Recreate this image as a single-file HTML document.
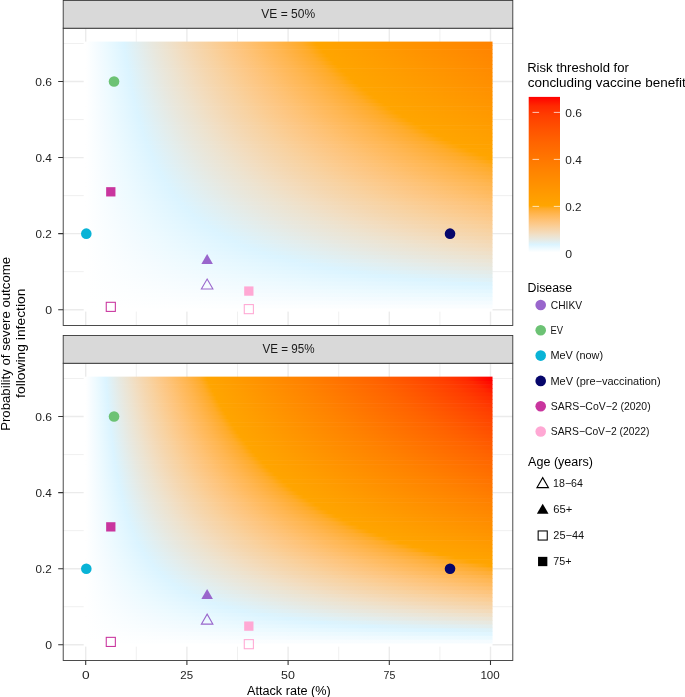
<!DOCTYPE html>
<html><head><meta charset="utf-8"><style>
html,body{margin:0;padding:0;background:#fff;width:685px;height:697px;overflow:hidden}
svg{display:block;font-family:"Liberation Sans",sans-serif;will-change:transform}
</style></head><body>
<svg width="685" height="697" viewBox="0 0 685 697">
<defs>
<linearGradient id="hg" gradientUnits="userSpaceOnUse" x1="0" y1="0" x2="665.0" y2="0"><stop offset="0.0000" stop-color="#ffffff"/><stop offset="0.0083" stop-color="#f9fdff"/><stop offset="0.0167" stop-color="#f3fbff"/><stop offset="0.0250" stop-color="#edfaff"/><stop offset="0.0333" stop-color="#e7f8ff"/><stop offset="0.0417" stop-color="#e1f6ff"/><stop offset="0.0500" stop-color="#dbf4ff"/><stop offset="0.0679" stop-color="#e2eeef"/><stop offset="0.0857" stop-color="#e8e8df"/><stop offset="0.1036" stop-color="#ede3d0"/><stop offset="0.1214" stop-color="#f2ddc0"/><stop offset="0.1393" stop-color="#f5d7b0"/><stop offset="0.1571" stop-color="#f8d2a1"/><stop offset="0.1750" stop-color="#fbcc91"/><stop offset="0.1929" stop-color="#fdc682"/><stop offset="0.2107" stop-color="#fec172"/><stop offset="0.2286" stop-color="#ffbb61"/><stop offset="0.2464" stop-color="#ffb651"/><stop offset="0.2643" stop-color="#ffb03e"/><stop offset="0.2821" stop-color="#ffab28"/><stop offset="0.3000" stop-color="#ffa500"/><stop offset="0.3583" stop-color="#ff9d00"/><stop offset="0.4167" stop-color="#ff9400"/><stop offset="0.4750" stop-color="#ff8b00"/><stop offset="0.5333" stop-color="#ff8200"/><stop offset="0.5917" stop-color="#ff7800"/><stop offset="0.6500" stop-color="#ff6e00"/><stop offset="0.7083" stop-color="#ff6400"/><stop offset="0.7667" stop-color="#ff5800"/><stop offset="0.8250" stop-color="#ff4b00"/><stop offset="0.8833" stop-color="#ff3d00"/><stop offset="0.9417" stop-color="#ff2900"/><stop offset="1.0000" stop-color="#ff0000"/></linearGradient>
<linearGradient id="lg" x1="0" y1="1" x2="0" y2="0"><stop offset="0.0000" stop-color="#ffffff"/><stop offset="0.0083" stop-color="#f9fdff"/><stop offset="0.0167" stop-color="#f3fbff"/><stop offset="0.0250" stop-color="#edfaff"/><stop offset="0.0333" stop-color="#e7f8ff"/><stop offset="0.0417" stop-color="#e1f6ff"/><stop offset="0.0500" stop-color="#dbf4ff"/><stop offset="0.0679" stop-color="#e2eeef"/><stop offset="0.0857" stop-color="#e8e8df"/><stop offset="0.1036" stop-color="#ede3d0"/><stop offset="0.1214" stop-color="#f2ddc0"/><stop offset="0.1393" stop-color="#f5d7b0"/><stop offset="0.1571" stop-color="#f8d2a1"/><stop offset="0.1750" stop-color="#fbcc91"/><stop offset="0.1929" stop-color="#fdc682"/><stop offset="0.2107" stop-color="#fec172"/><stop offset="0.2286" stop-color="#ffbb61"/><stop offset="0.2464" stop-color="#ffb651"/><stop offset="0.2643" stop-color="#ffb03e"/><stop offset="0.2821" stop-color="#ffab28"/><stop offset="0.3000" stop-color="#ffa500"/><stop offset="0.3583" stop-color="#ff9d00"/><stop offset="0.4167" stop-color="#ff9400"/><stop offset="0.4750" stop-color="#ff8b00"/><stop offset="0.5333" stop-color="#ff8200"/><stop offset="0.5917" stop-color="#ff7800"/><stop offset="0.6500" stop-color="#ff6e00"/><stop offset="0.7083" stop-color="#ff6400"/><stop offset="0.7667" stop-color="#ff5800"/><stop offset="0.8250" stop-color="#ff4b00"/><stop offset="0.8833" stop-color="#ff3d00"/><stop offset="0.9417" stop-color="#ff2900"/><stop offset="1.0000" stop-color="#ff0000"/></linearGradient>
</defs>
<rect x="63.20" y="28.20" width="449.60" height="297.25" fill="#fff"/>
<path d="M136.30 28.20V325.45M237.50 28.20V325.45M338.70 28.20V325.45M439.90 28.20V325.45M63.20 271.67H512.80M63.20 195.61H512.80M63.20 119.55H512.80M63.20 43.49H512.80" stroke="#ebebeb" stroke-width="0.75" fill="none"/>
<path d="M85.70 28.20V325.45M186.90 28.20V325.45M288.10 28.20V325.45M389.30 28.20V325.45M490.50 28.20V325.45M63.20 309.70H512.80M63.20 233.64H512.80M63.20 157.58H512.80M63.20 81.52H512.80" stroke="#ebebeb" stroke-width="1.4" fill="none"/>
<rect x="83.68" y="307.80" width="408.85" height="3.803" fill="#fff"/><rect transform="matrix(80.96000 0 0 1 85.70 0)" x="-0.0250" y="304.00" width="5.0500" height="4.403" fill="url(#hg)"/><rect transform="matrix(40.48000 0 0 1 85.70 0)" x="-0.0500" y="300.19" width="10.1000" height="4.403" fill="url(#hg)"/><rect transform="matrix(26.98667 0 0 1 85.70 0)" x="-0.0750" y="296.39" width="15.1500" height="4.403" fill="url(#hg)"/><rect transform="matrix(20.24000 0 0 1 85.70 0)" x="-0.1000" y="292.59" width="20.2000" height="4.403" fill="url(#hg)"/><rect transform="matrix(16.19200 0 0 1 85.70 0)" x="-0.1250" y="288.78" width="25.2500" height="4.403" fill="url(#hg)"/><rect transform="matrix(13.49333 0 0 1 85.70 0)" x="-0.1500" y="284.98" width="30.3000" height="4.403" fill="url(#hg)"/><rect transform="matrix(11.56571 0 0 1 85.70 0)" x="-0.1750" y="281.18" width="35.3500" height="4.403" fill="url(#hg)"/><rect transform="matrix(10.12000 0 0 1 85.70 0)" x="-0.2000" y="277.37" width="40.4000" height="4.403" fill="url(#hg)"/><rect transform="matrix(8.99556 0 0 1 85.70 0)" x="-0.2250" y="273.57" width="45.4500" height="4.403" fill="url(#hg)"/><rect transform="matrix(8.09600 0 0 1 85.70 0)" x="-0.2500" y="269.77" width="50.5000" height="4.403" fill="url(#hg)"/><rect transform="matrix(7.36000 0 0 1 85.70 0)" x="-0.2750" y="265.97" width="55.5500" height="4.403" fill="url(#hg)"/><rect transform="matrix(6.74667 0 0 1 85.70 0)" x="-0.3000" y="262.16" width="60.6000" height="4.403" fill="url(#hg)"/><rect transform="matrix(6.22769 0 0 1 85.70 0)" x="-0.3250" y="258.36" width="65.6500" height="4.403" fill="url(#hg)"/><rect transform="matrix(5.78286 0 0 1 85.70 0)" x="-0.3500" y="254.56" width="70.7000" height="4.403" fill="url(#hg)"/><rect transform="matrix(5.39733 0 0 1 85.70 0)" x="-0.3750" y="250.75" width="75.7500" height="4.403" fill="url(#hg)"/><rect transform="matrix(5.06000 0 0 1 85.70 0)" x="-0.4000" y="246.95" width="80.8000" height="4.403" fill="url(#hg)"/><rect transform="matrix(4.76235 0 0 1 85.70 0)" x="-0.4250" y="243.15" width="85.8500" height="4.403" fill="url(#hg)"/><rect transform="matrix(4.49778 0 0 1 85.70 0)" x="-0.4500" y="239.34" width="90.9000" height="4.403" fill="url(#hg)"/><rect transform="matrix(4.26105 0 0 1 85.70 0)" x="-0.4750" y="235.54" width="95.9500" height="4.403" fill="url(#hg)"/><rect transform="matrix(4.04800 0 0 1 85.70 0)" x="-0.5000" y="231.74" width="101.0000" height="4.403" fill="url(#hg)"/><rect transform="matrix(3.85524 0 0 1 85.70 0)" x="-0.5250" y="227.94" width="106.0500" height="4.403" fill="url(#hg)"/><rect transform="matrix(3.68000 0 0 1 85.70 0)" x="-0.5500" y="224.13" width="111.1000" height="4.403" fill="url(#hg)"/><rect transform="matrix(3.52000 0 0 1 85.70 0)" x="-0.5750" y="220.33" width="116.1500" height="4.403" fill="url(#hg)"/><rect transform="matrix(3.37333 0 0 1 85.70 0)" x="-0.6000" y="216.53" width="121.2000" height="4.403" fill="url(#hg)"/><rect transform="matrix(3.23840 0 0 1 85.70 0)" x="-0.6250" y="212.72" width="126.2500" height="4.403" fill="url(#hg)"/><rect transform="matrix(3.11385 0 0 1 85.70 0)" x="-0.6500" y="208.92" width="131.3000" height="4.403" fill="url(#hg)"/><rect transform="matrix(2.99852 0 0 1 85.70 0)" x="-0.6750" y="205.12" width="136.3500" height="4.403" fill="url(#hg)"/><rect transform="matrix(2.89143 0 0 1 85.70 0)" x="-0.7000" y="201.31" width="141.4000" height="4.403" fill="url(#hg)"/><rect transform="matrix(2.79172 0 0 1 85.70 0)" x="-0.7250" y="197.51" width="146.4500" height="4.403" fill="url(#hg)"/><rect transform="matrix(2.69867 0 0 1 85.70 0)" x="-0.7500" y="193.71" width="151.5000" height="4.403" fill="url(#hg)"/><rect transform="matrix(2.61161 0 0 1 85.70 0)" x="-0.7750" y="189.91" width="156.5500" height="4.403" fill="url(#hg)"/><rect transform="matrix(2.53000 0 0 1 85.70 0)" x="-0.8000" y="186.10" width="161.6000" height="4.403" fill="url(#hg)"/><rect transform="matrix(2.45333 0 0 1 85.70 0)" x="-0.8250" y="182.30" width="166.6500" height="4.403" fill="url(#hg)"/><rect transform="matrix(2.38118 0 0 1 85.70 0)" x="-0.8500" y="178.50" width="171.7000" height="4.403" fill="url(#hg)"/><rect transform="matrix(2.31314 0 0 1 85.70 0)" x="-0.8750" y="174.69" width="176.7500" height="4.403" fill="url(#hg)"/><rect transform="matrix(2.24889 0 0 1 85.70 0)" x="-0.9000" y="170.89" width="181.8000" height="4.403" fill="url(#hg)"/><rect transform="matrix(2.18811 0 0 1 85.70 0)" x="-0.9250" y="167.09" width="186.8500" height="4.403" fill="url(#hg)"/><rect transform="matrix(2.13053 0 0 1 85.70 0)" x="-0.9500" y="163.28" width="191.9000" height="4.403" fill="url(#hg)"/><rect transform="matrix(2.07590 0 0 1 85.70 0)" x="-0.9750" y="159.48" width="196.9500" height="4.403" fill="url(#hg)"/><rect transform="matrix(2.02400 0 0 1 85.70 0)" x="-1.0000" y="155.68" width="202.0000" height="4.403" fill="url(#hg)"/><rect transform="matrix(1.97463 0 0 1 85.70 0)" x="-1.0250" y="151.88" width="207.0500" height="4.403" fill="url(#hg)"/><rect transform="matrix(1.92762 0 0 1 85.70 0)" x="-1.0500" y="148.07" width="212.1000" height="4.403" fill="url(#hg)"/><rect transform="matrix(1.88279 0 0 1 85.70 0)" x="-1.0750" y="144.27" width="217.1500" height="4.403" fill="url(#hg)"/><rect transform="matrix(1.84000 0 0 1 85.70 0)" x="-1.1000" y="140.47" width="222.2000" height="4.403" fill="url(#hg)"/><rect transform="matrix(1.79911 0 0 1 85.70 0)" x="-1.1250" y="136.66" width="227.2500" height="4.403" fill="url(#hg)"/><rect transform="matrix(1.76000 0 0 1 85.70 0)" x="-1.1500" y="132.86" width="232.3000" height="4.403" fill="url(#hg)"/><rect transform="matrix(1.72255 0 0 1 85.70 0)" x="-1.1750" y="129.06" width="237.3500" height="4.403" fill="url(#hg)"/><rect transform="matrix(1.68667 0 0 1 85.70 0)" x="-1.2000" y="125.25" width="242.4000" height="4.403" fill="url(#hg)"/><rect transform="matrix(1.65224 0 0 1 85.70 0)" x="-1.2250" y="121.45" width="247.4500" height="4.403" fill="url(#hg)"/><rect transform="matrix(1.61920 0 0 1 85.70 0)" x="-1.2500" y="117.65" width="252.5000" height="4.403" fill="url(#hg)"/><rect transform="matrix(1.58745 0 0 1 85.70 0)" x="-1.2750" y="113.85" width="257.5500" height="4.403" fill="url(#hg)"/><rect transform="matrix(1.55692 0 0 1 85.70 0)" x="-1.3000" y="110.04" width="262.6000" height="4.403" fill="url(#hg)"/><rect transform="matrix(1.52755 0 0 1 85.70 0)" x="-1.3250" y="106.24" width="267.6500" height="4.403" fill="url(#hg)"/><rect transform="matrix(1.49926 0 0 1 85.70 0)" x="-1.3500" y="102.44" width="272.7000" height="4.403" fill="url(#hg)"/><rect transform="matrix(1.47200 0 0 1 85.70 0)" x="-1.3750" y="98.63" width="277.7500" height="4.403" fill="url(#hg)"/><rect transform="matrix(1.44571 0 0 1 85.70 0)" x="-1.4000" y="94.83" width="282.8000" height="4.403" fill="url(#hg)"/><rect transform="matrix(1.42035 0 0 1 85.70 0)" x="-1.4250" y="91.03" width="287.8500" height="4.403" fill="url(#hg)"/><rect transform="matrix(1.39586 0 0 1 85.70 0)" x="-1.4500" y="87.22" width="292.9000" height="4.403" fill="url(#hg)"/><rect transform="matrix(1.37220 0 0 1 85.70 0)" x="-1.4750" y="83.42" width="297.9500" height="4.403" fill="url(#hg)"/><rect transform="matrix(1.34933 0 0 1 85.70 0)" x="-1.5000" y="79.62" width="303.0000" height="4.403" fill="url(#hg)"/><rect transform="matrix(1.32721 0 0 1 85.70 0)" x="-1.5250" y="75.82" width="308.0500" height="4.403" fill="url(#hg)"/><rect transform="matrix(1.30581 0 0 1 85.70 0)" x="-1.5500" y="72.01" width="313.1000" height="4.403" fill="url(#hg)"/><rect transform="matrix(1.28508 0 0 1 85.70 0)" x="-1.5750" y="68.21" width="318.1500" height="4.403" fill="url(#hg)"/><rect transform="matrix(1.26500 0 0 1 85.70 0)" x="-1.6000" y="64.41" width="323.2000" height="4.403" fill="url(#hg)"/><rect transform="matrix(1.24554 0 0 1 85.70 0)" x="-1.6250" y="60.60" width="328.2500" height="4.403" fill="url(#hg)"/><rect transform="matrix(1.22667 0 0 1 85.70 0)" x="-1.6500" y="56.80" width="333.3000" height="4.403" fill="url(#hg)"/><rect transform="matrix(1.20836 0 0 1 85.70 0)" x="-1.6750" y="53.00" width="338.3500" height="4.403" fill="url(#hg)"/><rect transform="matrix(1.19059 0 0 1 85.70 0)" x="-1.7000" y="49.19" width="343.4000" height="4.403" fill="url(#hg)"/><rect transform="matrix(1.17333 0 0 1 85.70 0)" x="-1.7250" y="45.39" width="348.4500" height="4.403" fill="url(#hg)"/><rect transform="matrix(1.15657 0 0 1 85.70 0)" x="-1.7500" y="41.59" width="353.5000" height="4.403" fill="url(#hg)"/>
<rect x="63.20" y="28.20" width="449.60" height="297.25" fill="none" stroke="#333" stroke-width="0.88"/>
<rect x="63.20" y="0.40" width="449.60" height="27.80" fill="#d9d9d9" stroke="#333" stroke-width="0.88"/>
<text x="261.34" y="18.00" font-size="12.30" fill="#1a1a1a" textLength="53.78" lengthAdjust="spacingAndGlyphs">VE = 50%</text>
<text x="45.21" y="314.20" font-size="11.00" fill="#1e1e1e" textLength="6.84" lengthAdjust="spacingAndGlyphs">0</text>
<text x="35.63" y="238.14" font-size="11.00" fill="#1e1e1e" textLength="16.25" lengthAdjust="spacingAndGlyphs">0.2</text>
<text x="35.43" y="162.08" font-size="11.00" fill="#1e1e1e" textLength="16.43" lengthAdjust="spacingAndGlyphs">0.4</text>
<text x="35.22" y="86.02" font-size="11.00" fill="#1e1e1e" textLength="16.77" lengthAdjust="spacingAndGlyphs">0.6</text>
<path d="M58.20 309.70H63.20M58.20 233.64H63.20M58.20 157.58H63.20M58.20 81.52H63.20" stroke="#333" stroke-width="1.07" fill="none"/>
<rect x="63.20" y="363.25" width="449.60" height="297.25" fill="#fff"/>
<path d="M136.30 363.25V660.50M237.50 363.25V660.50M338.70 363.25V660.50M439.90 363.25V660.50M63.20 606.72H512.80M63.20 530.66H512.80M63.20 454.60H512.80M63.20 378.54H512.80" stroke="#ebebeb" stroke-width="0.75" fill="none"/>
<path d="M85.70 363.25V660.50M186.90 363.25V660.50M288.10 363.25V660.50M389.30 363.25V660.50M490.50 363.25V660.50M63.20 644.75H512.80M63.20 568.69H512.80M63.20 492.63H512.80M63.20 416.57H512.80" stroke="#ebebeb" stroke-width="1.4" fill="none"/>
<rect x="83.68" y="642.85" width="408.85" height="3.803" fill="#fff"/><rect transform="matrix(42.61053 0 0 1 85.70 0)" x="-0.0475" y="639.05" width="9.5950" height="4.403" fill="url(#hg)"/><rect transform="matrix(21.30526 0 0 1 85.70 0)" x="-0.0950" y="635.24" width="19.1900" height="4.403" fill="url(#hg)"/><rect transform="matrix(14.20351 0 0 1 85.70 0)" x="-0.1425" y="631.44" width="28.7850" height="4.403" fill="url(#hg)"/><rect transform="matrix(10.65263 0 0 1 85.70 0)" x="-0.1900" y="627.64" width="38.3800" height="4.403" fill="url(#hg)"/><rect transform="matrix(8.52211 0 0 1 85.70 0)" x="-0.2375" y="623.83" width="47.9750" height="4.403" fill="url(#hg)"/><rect transform="matrix(7.10175 0 0 1 85.70 0)" x="-0.2850" y="620.03" width="57.5700" height="4.403" fill="url(#hg)"/><rect transform="matrix(6.08722 0 0 1 85.70 0)" x="-0.3325" y="616.23" width="67.1650" height="4.403" fill="url(#hg)"/><rect transform="matrix(5.32632 0 0 1 85.70 0)" x="-0.3800" y="612.42" width="76.7600" height="4.403" fill="url(#hg)"/><rect transform="matrix(4.73450 0 0 1 85.70 0)" x="-0.4275" y="608.62" width="86.3550" height="4.403" fill="url(#hg)"/><rect transform="matrix(4.26105 0 0 1 85.70 0)" x="-0.4750" y="604.82" width="95.9500" height="4.403" fill="url(#hg)"/><rect transform="matrix(3.87368 0 0 1 85.70 0)" x="-0.5225" y="601.02" width="105.5450" height="4.403" fill="url(#hg)"/><rect transform="matrix(3.55088 0 0 1 85.70 0)" x="-0.5700" y="597.21" width="115.1400" height="4.403" fill="url(#hg)"/><rect transform="matrix(3.27773 0 0 1 85.70 0)" x="-0.6175" y="593.41" width="124.7350" height="4.403" fill="url(#hg)"/><rect transform="matrix(3.04361 0 0 1 85.70 0)" x="-0.6650" y="589.61" width="134.3300" height="4.403" fill="url(#hg)"/><rect transform="matrix(2.84070 0 0 1 85.70 0)" x="-0.7125" y="585.80" width="143.9250" height="4.403" fill="url(#hg)"/><rect transform="matrix(2.66316 0 0 1 85.70 0)" x="-0.7600" y="582.00" width="153.5200" height="4.403" fill="url(#hg)"/><rect transform="matrix(2.50650 0 0 1 85.70 0)" x="-0.8075" y="578.20" width="163.1150" height="4.403" fill="url(#hg)"/><rect transform="matrix(2.36725 0 0 1 85.70 0)" x="-0.8550" y="574.39" width="172.7100" height="4.403" fill="url(#hg)"/><rect transform="matrix(2.24266 0 0 1 85.70 0)" x="-0.9025" y="570.59" width="182.3050" height="4.403" fill="url(#hg)"/><rect transform="matrix(2.13053 0 0 1 85.70 0)" x="-0.9500" y="566.79" width="191.9000" height="4.403" fill="url(#hg)"/><rect transform="matrix(2.02907 0 0 1 85.70 0)" x="-0.9975" y="562.99" width="201.4950" height="4.403" fill="url(#hg)"/><rect transform="matrix(1.93684 0 0 1 85.70 0)" x="-1.0450" y="559.18" width="211.0900" height="4.403" fill="url(#hg)"/><rect transform="matrix(1.85263 0 0 1 85.70 0)" x="-1.0925" y="555.38" width="220.6850" height="4.403" fill="url(#hg)"/><rect transform="matrix(1.77544 0 0 1 85.70 0)" x="-1.1400" y="551.58" width="230.2800" height="4.403" fill="url(#hg)"/><rect transform="matrix(1.70442 0 0 1 85.70 0)" x="-1.1875" y="547.77" width="239.8750" height="4.403" fill="url(#hg)"/><rect transform="matrix(1.63887 0 0 1 85.70 0)" x="-1.2350" y="543.97" width="249.4700" height="4.403" fill="url(#hg)"/><rect transform="matrix(1.57817 0 0 1 85.70 0)" x="-1.2825" y="540.17" width="259.0650" height="4.403" fill="url(#hg)"/><rect transform="matrix(1.52180 0 0 1 85.70 0)" x="-1.3300" y="536.36" width="268.6600" height="4.403" fill="url(#hg)"/><rect transform="matrix(1.46933 0 0 1 85.70 0)" x="-1.3775" y="532.56" width="278.2550" height="4.403" fill="url(#hg)"/><rect transform="matrix(1.42035 0 0 1 85.70 0)" x="-1.4250" y="528.76" width="287.8500" height="4.403" fill="url(#hg)"/><rect transform="matrix(1.37453 0 0 1 85.70 0)" x="-1.4725" y="524.96" width="297.4450" height="4.403" fill="url(#hg)"/><rect transform="matrix(1.33158 0 0 1 85.70 0)" x="-1.5200" y="521.15" width="307.0400" height="4.403" fill="url(#hg)"/><rect transform="matrix(1.29123 0 0 1 85.70 0)" x="-1.5675" y="517.35" width="316.6350" height="4.403" fill="url(#hg)"/><rect transform="matrix(1.25325 0 0 1 85.70 0)" x="-1.6150" y="513.55" width="326.2300" height="4.403" fill="url(#hg)"/><rect transform="matrix(1.21744 0 0 1 85.70 0)" x="-1.6625" y="509.74" width="335.8250" height="4.403" fill="url(#hg)"/><rect transform="matrix(1.18363 0 0 1 85.70 0)" x="-1.7100" y="505.94" width="345.4200" height="4.403" fill="url(#hg)"/><rect transform="matrix(1.15164 0 0 1 85.70 0)" x="-1.7575" y="502.14" width="355.0150" height="4.403" fill="url(#hg)"/><rect transform="matrix(1.12133 0 0 1 85.70 0)" x="-1.8050" y="498.33" width="364.6100" height="4.403" fill="url(#hg)"/><rect transform="matrix(1.09258 0 0 1 85.70 0)" x="-1.8525" y="494.53" width="374.2050" height="4.403" fill="url(#hg)"/><rect transform="matrix(1.06526 0 0 1 85.70 0)" x="-1.9000" y="490.73" width="383.8000" height="4.403" fill="url(#hg)"/><rect transform="matrix(1.03928 0 0 1 85.70 0)" x="-1.9475" y="486.93" width="393.3950" height="4.403" fill="url(#hg)"/><rect transform="matrix(1.01454 0 0 1 85.70 0)" x="-1.9950" y="483.12" width="402.9900" height="4.403" fill="url(#hg)"/><rect transform="matrix(0.99094 0 0 1 85.70 0)" x="-2.0425" y="479.32" width="412.5850" height="4.403" fill="url(#hg)"/><rect transform="matrix(0.96842 0 0 1 85.70 0)" x="-2.0900" y="475.52" width="422.1800" height="4.403" fill="url(#hg)"/><rect transform="matrix(0.94690 0 0 1 85.70 0)" x="-2.1375" y="471.71" width="431.7750" height="4.403" fill="url(#hg)"/><rect transform="matrix(0.92632 0 0 1 85.70 0)" x="-2.1850" y="467.91" width="441.3700" height="4.403" fill="url(#hg)"/><rect transform="matrix(0.90661 0 0 1 85.70 0)" x="-2.2325" y="464.11" width="450.9650" height="4.403" fill="url(#hg)"/><rect transform="matrix(0.88772 0 0 1 85.70 0)" x="-2.2800" y="460.30" width="460.5600" height="4.403" fill="url(#hg)"/><rect transform="matrix(0.86960 0 0 1 85.70 0)" x="-2.3275" y="456.50" width="470.1550" height="4.403" fill="url(#hg)"/><rect transform="matrix(0.85221 0 0 1 85.70 0)" x="-2.3750" y="452.70" width="479.7500" height="4.403" fill="url(#hg)"/><rect transform="matrix(0.83550 0 0 1 85.70 0)" x="-2.4225" y="448.90" width="489.3450" height="4.403" fill="url(#hg)"/><rect transform="matrix(0.81943 0 0 1 85.70 0)" x="-2.4700" y="445.09" width="498.9400" height="4.403" fill="url(#hg)"/><rect transform="matrix(0.80397 0 0 1 85.70 0)" x="-2.5175" y="441.29" width="508.5350" height="4.403" fill="url(#hg)"/><rect transform="matrix(0.78908 0 0 1 85.70 0)" x="-2.5650" y="437.49" width="518.1300" height="4.403" fill="url(#hg)"/><rect transform="matrix(0.77474 0 0 1 85.70 0)" x="-2.6125" y="433.68" width="527.7250" height="4.403" fill="url(#hg)"/><rect transform="matrix(0.76090 0 0 1 85.70 0)" x="-2.6600" y="429.88" width="537.3200" height="4.403" fill="url(#hg)"/><rect transform="matrix(0.74755 0 0 1 85.70 0)" x="-2.7075" y="426.08" width="546.9150" height="4.403" fill="url(#hg)"/><rect transform="matrix(0.73466 0 0 1 85.70 0)" x="-2.7550" y="422.27" width="556.5100" height="4.403" fill="url(#hg)"/><rect transform="matrix(0.72221 0 0 1 85.70 0)" x="-2.8025" y="418.47" width="566.1050" height="4.403" fill="url(#hg)"/><rect transform="matrix(0.71018 0 0 1 85.70 0)" x="-2.8500" y="414.67" width="575.7000" height="4.403" fill="url(#hg)"/><rect transform="matrix(0.69853 0 0 1 85.70 0)" x="-2.8975" y="410.87" width="585.2950" height="4.403" fill="url(#hg)"/><rect transform="matrix(0.68727 0 0 1 85.70 0)" x="-2.9450" y="407.06" width="594.8900" height="4.403" fill="url(#hg)"/><rect transform="matrix(0.67636 0 0 1 85.70 0)" x="-2.9925" y="403.26" width="604.4850" height="4.403" fill="url(#hg)"/><rect transform="matrix(0.66579 0 0 1 85.70 0)" x="-3.0400" y="399.46" width="614.0800" height="4.403" fill="url(#hg)"/><rect transform="matrix(0.65555 0 0 1 85.70 0)" x="-3.0875" y="395.65" width="623.6750" height="4.403" fill="url(#hg)"/><rect transform="matrix(0.64561 0 0 1 85.70 0)" x="-3.1350" y="391.85" width="633.2700" height="4.403" fill="url(#hg)"/><rect transform="matrix(0.63598 0 0 1 85.70 0)" x="-3.1825" y="388.05" width="642.8650" height="4.403" fill="url(#hg)"/><rect transform="matrix(0.62663 0 0 1 85.70 0)" x="-3.2300" y="384.24" width="652.4600" height="4.403" fill="url(#hg)"/><rect transform="matrix(0.61754 0 0 1 85.70 0)" x="-3.2775" y="380.44" width="662.0550" height="4.403" fill="url(#hg)"/><rect transform="matrix(0.60872 0 0 1 85.70 0)" x="-3.3250" y="376.64" width="671.6500" height="4.403" fill="url(#hg)"/>
<rect x="63.20" y="363.25" width="449.60" height="297.25" fill="none" stroke="#333" stroke-width="0.88"/>
<rect x="63.20" y="335.45" width="449.60" height="27.80" fill="#d9d9d9" stroke="#333" stroke-width="0.88"/>
<text x="262.54" y="353.05" font-size="12.30" fill="#1a1a1a" textLength="52.07" lengthAdjust="spacingAndGlyphs">VE = 95%</text>
<text x="45.21" y="649.25" font-size="11.00" fill="#1e1e1e" textLength="6.84" lengthAdjust="spacingAndGlyphs">0</text>
<text x="35.63" y="573.19" font-size="11.00" fill="#1e1e1e" textLength="16.25" lengthAdjust="spacingAndGlyphs">0.2</text>
<text x="35.43" y="497.13" font-size="11.00" fill="#1e1e1e" textLength="16.43" lengthAdjust="spacingAndGlyphs">0.4</text>
<text x="35.22" y="421.07" font-size="11.00" fill="#1e1e1e" textLength="16.77" lengthAdjust="spacingAndGlyphs">0.6</text>
<path d="M58.20 644.75H63.20M58.20 568.69H63.20M58.20 492.63H63.20M58.20 416.57H63.20" stroke="#333" stroke-width="1.07" fill="none"/>
<text x="82.05" y="678.60" font-size="11.00" fill="#1e1e1e" textLength="7.65" lengthAdjust="spacingAndGlyphs">0</text>
<text x="180.33" y="678.60" font-size="11.00" fill="#1e1e1e" textLength="12.76" lengthAdjust="spacingAndGlyphs">25</text>
<text x="281.10" y="678.60" font-size="11.00" fill="#1e1e1e" textLength="13.86" lengthAdjust="spacingAndGlyphs">50</text>
<text x="383.57" y="678.60" font-size="11.00" fill="#1e1e1e" textLength="11.78" lengthAdjust="spacingAndGlyphs">75</text>
<text x="480.43" y="678.60" font-size="11.00" fill="#1e1e1e" textLength="19.31" lengthAdjust="spacingAndGlyphs">100</text>
<path d="M85.70 660.50V665.00M186.90 660.50V665.00M288.10 660.50V665.00M389.30 660.50V665.00M490.50 660.50V665.00" stroke="#333" stroke-width="1.07" fill="none"/>
<text x="247.00" y="695.00" font-size="12.30" fill="#000000" textLength="83.70" lengthAdjust="spacingAndGlyphs">Attack rate (%)</text>
<g transform="rotate(-90)"><text x="-430.86" y="9.90" font-size="12.30" fill="#000000" textLength="173.93" lengthAdjust="spacingAndGlyphs">Probability of severe outcome</text><text x="-397.91" y="24.60" font-size="12.30" fill="#000000" textLength="109.29" lengthAdjust="spacingAndGlyphs">following infection</text></g>
<circle cx="114.04" cy="81.52" r="5.30" fill="#6cc274"/><rect x="106.15" y="187.16" width="9.30" height="9.30" fill="#c9359e"/><circle cx="86.31" cy="233.64" r="5.30" fill="#09b3d6"/><rect x="106.25" y="302.30" width="9.10" height="9.10" fill="none" stroke="#c9359e" stroke-width="1.07"/><path d="M207.14 253.97L212.92 263.98L201.36 263.98Z" fill="#9966cc"/><path d="M207.14 279.07L212.92 289.08L201.36 289.08Z" fill="none" stroke="#9966cc" stroke-width="1.07" stroke-linejoin="miter"/><rect x="244.18" y="286.42" width="9.30" height="9.30" fill="#ffa8d4"/><rect x="244.28" y="304.58" width="9.10" height="9.10" fill="none" stroke="#ffa8d4" stroke-width="1.07"/><circle cx="450.02" cy="233.64" r="5.30" fill="#06066b"/>
<circle cx="114.04" cy="416.57" r="5.30" fill="#6cc274"/><rect x="106.15" y="522.21" width="9.30" height="9.30" fill="#c9359e"/><circle cx="86.31" cy="568.69" r="5.30" fill="#09b3d6"/><rect x="106.25" y="637.35" width="9.10" height="9.10" fill="none" stroke="#c9359e" stroke-width="1.07"/><path d="M207.14 589.02L212.92 599.03L201.36 599.03Z" fill="#9966cc"/><path d="M207.14 614.12L212.92 624.13L201.36 624.13Z" fill="none" stroke="#9966cc" stroke-width="1.07" stroke-linejoin="miter"/><rect x="244.18" y="621.47" width="9.30" height="9.30" fill="#ffa8d4"/><rect x="244.28" y="639.63" width="9.10" height="9.10" fill="none" stroke="#ffa8d4" stroke-width="1.07"/><circle cx="450.02" cy="568.69" r="5.30" fill="#06066b"/>
<text x="527.15" y="72.00" font-size="12.30" fill="#000000" textLength="101.65" lengthAdjust="spacingAndGlyphs">Risk threshold for</text>
<text x="527.66" y="86.60" font-size="12.30" fill="#000000" textLength="158.08" lengthAdjust="spacingAndGlyphs">concluding vaccine benefit</text>
<rect x="528.70" y="96.90" width="31.30" height="155.40" fill="url(#lg)"/>
<text x="565.31" y="258.10" font-size="11.00" fill="#1e1e1e" textLength="6.84" lengthAdjust="spacingAndGlyphs">0</text>
<text x="565.33" y="211.10" font-size="11.00" fill="#1e1e1e" textLength="16.25" lengthAdjust="spacingAndGlyphs">0.2</text>
<text x="565.33" y="164.10" font-size="11.00" fill="#1e1e1e" textLength="16.43" lengthAdjust="spacingAndGlyphs">0.4</text>
<text x="565.32" y="117.10" font-size="11.00" fill="#1e1e1e" textLength="16.77" lengthAdjust="spacingAndGlyphs">0.6</text>
<path d="M532.50 206.40H539.10M553.80 206.40H560.00M532.50 159.40H539.10M553.80 159.40H560.00M532.50 112.40H539.10M553.80 112.40H560.00" stroke="#fff" stroke-opacity="0.7" stroke-width="1" fill="none"/>
<text x="527.51" y="292.20" font-size="12.30" fill="#000000" textLength="44.58" lengthAdjust="spacingAndGlyphs">Disease</text>
<circle cx="540.70" cy="305.00" r="5.30" fill="#9966cc"/>
<text x="550.79" y="308.70" font-size="10.60" fill="#111111" textLength="31.28" lengthAdjust="spacingAndGlyphs">CHIKV</text>
<circle cx="540.70" cy="330.30" r="5.30" fill="#6cc274"/>
<text x="550.55" y="334.00" font-size="10.60" fill="#111111" textLength="12.54" lengthAdjust="spacingAndGlyphs">EV</text>
<circle cx="540.70" cy="355.60" r="5.30" fill="#09b3d6"/>
<text x="550.43" y="359.30" font-size="10.60" fill="#111111" textLength="52.68" lengthAdjust="spacingAndGlyphs">MeV (now)</text>
<circle cx="540.70" cy="380.90" r="5.30" fill="#06066b"/>
<text x="550.42" y="384.60" font-size="10.60" fill="#111111" textLength="110.17" lengthAdjust="spacingAndGlyphs">MeV (pre−vaccination)</text>
<circle cx="540.70" cy="406.20" r="5.30" fill="#c9359e"/>
<text x="550.83" y="409.90" font-size="10.60" fill="#111111" textLength="99.81" lengthAdjust="spacingAndGlyphs">SARS−CoV−2 (2020)</text>
<circle cx="540.70" cy="431.50" r="5.30" fill="#ffa8d4"/>
<text x="550.84" y="435.20" font-size="10.60" fill="#111111" textLength="98.60" lengthAdjust="spacingAndGlyphs">SARS−CoV−2 (2022)</text>
<text x="528.10" y="465.70" font-size="12.30" fill="#000000" textLength="64.80" lengthAdjust="spacingAndGlyphs">Age (years)</text>
<path d="M542.70 477.63L548.48 487.63L536.92 487.63Z" fill="none" stroke="#000" stroke-width="1.07" stroke-linejoin="miter"/>
<text x="553.10" y="487.20" font-size="10.60" fill="#111111" textLength="29.80" lengthAdjust="spacingAndGlyphs">18−64</text>
<path d="M542.70 503.63L548.48 513.63L536.92 513.63Z" fill="#000"/>
<text x="553.34" y="513.20" font-size="10.60" fill="#111111" textLength="19.04" lengthAdjust="spacingAndGlyphs">65+</text>
<rect x="538.15" y="530.95" width="9.10" height="9.10" fill="none" stroke="#000" stroke-width="1.07"/>
<text x="553.35" y="539.20" font-size="10.60" fill="#111111" textLength="30.76" lengthAdjust="spacingAndGlyphs">25−44</text>
<rect x="538.05" y="556.85" width="9.30" height="9.30" fill="#000"/>
<text x="553.36" y="565.20" font-size="10.60" fill="#111111" textLength="18.29" lengthAdjust="spacingAndGlyphs">75+</text>
</svg>
</body></html>
